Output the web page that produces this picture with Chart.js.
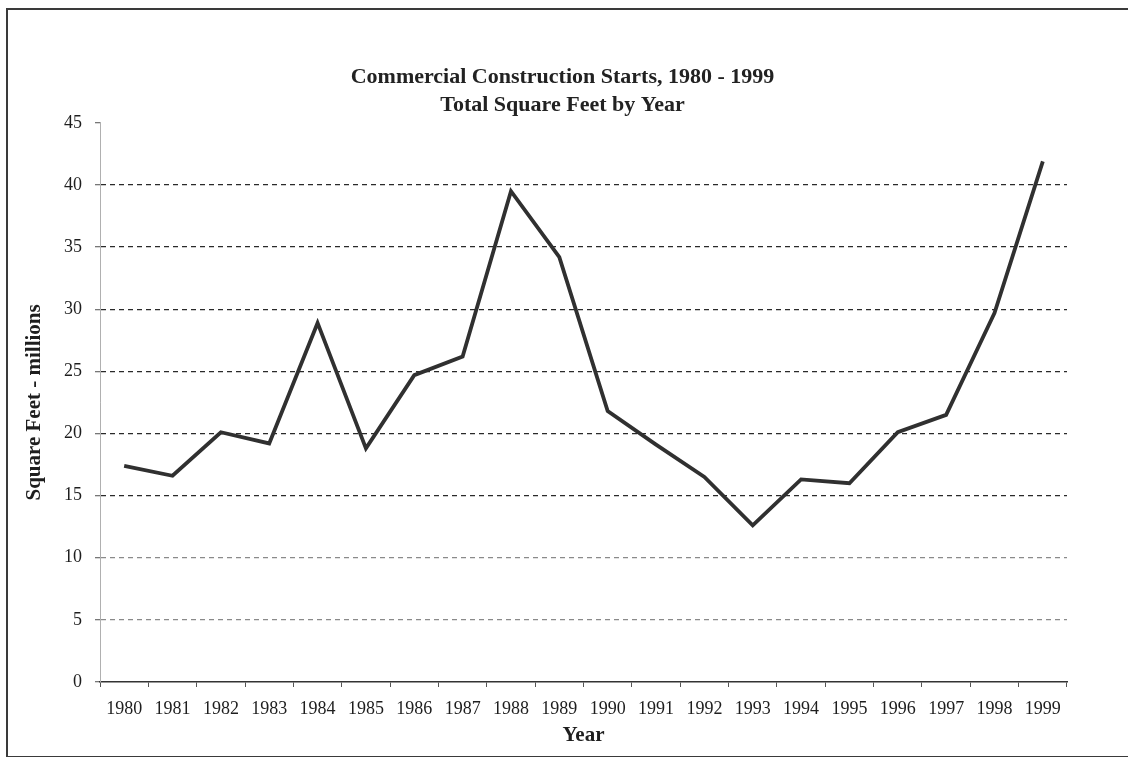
<!DOCTYPE html>
<html>
<head>
<meta charset="utf-8">
<script src="https://cdn.jsdelivr.net/npm/chart.js@4"></script>
<style>
	body { margin: 0; background: #fff; }
	.wrap { position: relative; width: 1128px; height: 758px; overflow: hidden; }
	.frame { position: absolute; left: 6px; top: 8px; width: 1140px; height: 746px; border: 2px solid #3a3a3a; border-bottom-width: 1px; }
	canvas { position: absolute; left: 0; top: 0; }
</style>
</head>
<body>
<div class="wrap">
	<div class="frame"></div>
	<canvas id="starts-chart" width="1128" height="758"></canvas>
</div>
<script>
; (function() {
	// values (millions of sq ft)
	const years = ['1980', '1981', '1982', '1983', '1984', '1985', '1986', '1987', '1988', '1989',
		'1990', '1991', '1992', '1993', '1994', '1995', '1996', '1997', '1998', '1999']
	const squareFeet = [17.4, 16.6, 20.1, 19.2, 28.9, 18.8, 24.7, 26.2, 39.5, 34.2,
		21.8, 19.1, 16.5, 12.6, 16.3, 16.0, 20.1, 21.5, 29.7, 41.9]
	const titleLines = ['Commercial Construction Starts, 1980 - 1999', 'Total Square Feet by Year']
	const yMin = 0
	const yMax = 45
	const yStep = 5

	const serif = "'Liberation Serif', 'Times New Roman', serif"

	function gridColor(ctx) {
		const v = ctx.tick ? ctx.tick.value : null
		if (v === yMax || v === yMin) return 'rgba(0,0,0,0)'
		if (v <= 10) return '#8a8a8a'
		return '#2a2a2a'
	}

	// the scanned title sits a bit right of the canvas centre
	const shiftTitle = {
		id: 'shiftTitle',
		afterLayout(chart) {
			if (chart.titleBlock) {
				chart.titleBlock.left = 35
				chart.titleBlock.right = 1090
			}
		},
	}

	const config = {
		type: 'line',
		data: {
			labels: years,
			datasets: [
				{
					label: 'Square Feet',
					data: squareFeet,
					borderColor: '#303030',
					borderWidth: 3.8,
					pointRadius: 0,
					tension: 0,
					fill: false,
				},
			],
		},
		options: {
			responsive: false,
			animation: false,
			layout: {
				padding: { left: 10, right: 61, top: 0, bottom: 0 },
			},
			plugins: {
				legend: { display: false },
				tooltip: { enabled: false },
				title: {
					display: true,
					text: titleLines,
					color: '#222',
					font: { family: serif, size: 22, weight: 'bold', lineHeight: 1.27 },
					padding: { top: 63, bottom: 4 },
				},
			},
			scales: {
				x: {
					offset: true,
					grid: {
						offset: true,
						drawOnChartArea: false,
						color: '#555',
						tickLength: 5,
					},
					border: { color: '#333', width: 1.5 },
					ticks: {
						color: '#1e1e1e',
						padding: 11,
						maxRotation: 0,
						autoSkip: false,
						font: { family: serif, size: 18 },
					},
					title: {
						display: true,
						text: 'Year',
						color: '#1e1e1e',
						font: { family: serif, size: 21, weight: 'bold' },
						padding: { top: 0, bottom: 10 },
					},
					afterFit: function(scale) { scale.height = 76 },
				},
				y: {
					min: yMin,
					max: yMax,
					grid: {
						color: gridColor,
						lineWidth: 1.3,
						tickColor: '#777',
						tickBorderDash: [],
						tickLength: 5,
					},
					// in v4 border.dash is the dash of the grid lines
					border: { color: '#b0b0b0', width: 1, dash: [5, 4] },
					ticks: {
						stepSize: yStep,
						color: '#1e1e1e',
						padding: 13,
						font: { family: serif, size: 18 },
					},
					title: {
						display: true,
						text: 'Square Feet - millions',
						color: '#1e1e1e',
						font: { family: serif, size: 21, weight: 'bold' },
						padding: { top: 12, bottom: 0 },
					},
					afterFit: function(scale) { scale.width = 90 },
				},
			},
		},
		plugins: [shiftTitle],
	}

	;(function () {
		const ctx = document.getElementById('starts-chart')
		let chart = new Chart(ctx, config)
	})()
})()
</script>
</body>
</html>
